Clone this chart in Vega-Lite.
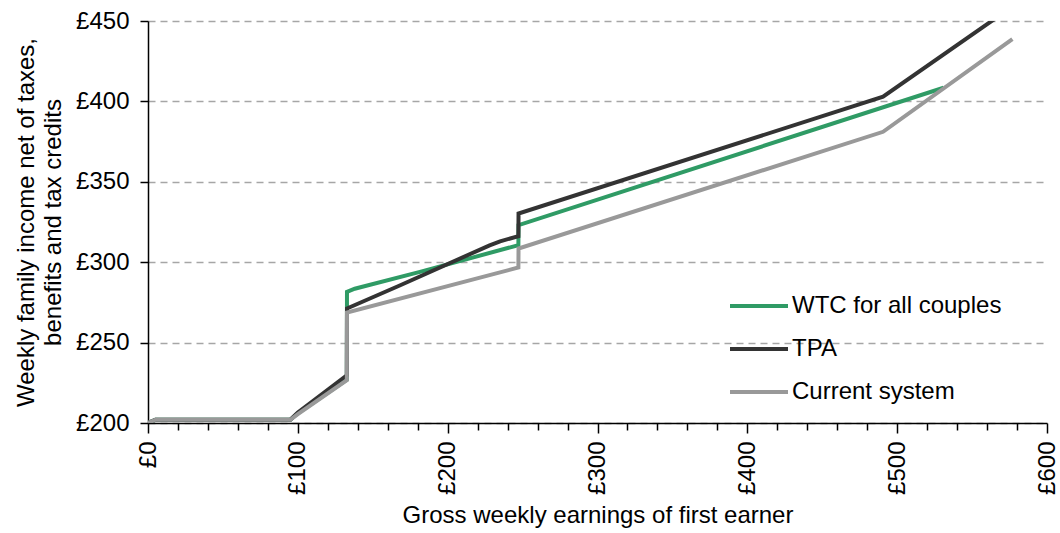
{
  "$schema": "https://vega.github.io/schema/vega-lite/v6.json",
  "width": 899,
  "height": 402,
  "autosize": {"type": "none"},
  "padding": {"left": 148, "top": 21, "right": 13, "bottom": 110},
  "background": "white",
  "config": {
    "view": {"stroke": null},
    "font": "Liberation Sans",
    "axis": {"labelFont": "Liberation Sans", "titleFont": "Liberation Sans", "labelColor": "black", "titleColor": "black", "titleFontWeight": "normal", "domainColor": "black", "tickColor": "black", "domainWidth": 1.5, "tickWidth": 1.5},
    "legend": {"labelFont": "Liberation Sans"}
  },
  "data": {
    "values": [
      {"series": "WTC for all couples", "earn": 0, "income": 200},
      {"series": "WTC for all couples", "earn": 5, "income": 202},
      {"series": "WTC for all couples", "earn": 95, "income": 202},
      {"series": "WTC for all couples", "earn": 100, "income": 206},
      {"series": "WTC for all couples", "earn": 132.7, "income": 227},
      {"series": "WTC for all couples", "earn": 132.8, "income": 281.5},
      {"series": "WTC for all couples", "earn": 138, "income": 283.5},
      {"series": "WTC for all couples", "earn": 181.5, "income": 294},
      {"series": "WTC for all couples", "earn": 247.2, "income": 310.6},
      {"series": "WTC for all couples", "earn": 247.3, "income": 323},
      {"series": "WTC for all couples", "earn": 531, "income": 408.5},
      {"series": "TPA", "earn": 0, "income": 200},
      {"series": "TPA", "earn": 5, "income": 202},
      {"series": "TPA", "earn": 95, "income": 202},
      {"series": "TPA", "earn": 100, "income": 206.5},
      {"series": "TPA", "earn": 132.7, "income": 229.7},
      {"series": "TPA", "earn": 132.8, "income": 271.2},
      {"series": "TPA", "earn": 168, "income": 285.5},
      {"series": "TPA", "earn": 228, "income": 310.5},
      {"series": "TPA", "earn": 235, "income": 313},
      {"series": "TPA", "earn": 247.2, "income": 316.2},
      {"series": "TPA", "earn": 247.3, "income": 330.3},
      {"series": "TPA", "earn": 490.6, "income": 402.9},
      {"series": "TPA", "earn": 576, "income": 458.4},
      {"series": "Current system", "earn": 0, "income": 200},
      {"series": "Current system", "earn": 5, "income": 202},
      {"series": "Current system", "earn": 95, "income": 202},
      {"series": "Current system", "earn": 100, "income": 205.5},
      {"series": "Current system", "earn": 132.7, "income": 226.6},
      {"series": "Current system", "earn": 132.8, "income": 268.7},
      {"series": "Current system", "earn": 247.2, "income": 296.7},
      {"series": "Current system", "earn": 247.3, "income": 308.5},
      {"series": "Current system", "earn": 490.6, "income": 381.1},
      {"series": "Current system", "earn": 576.9, "income": 438.8}
    ]
  },
  "mark": {"type": "line", "strokeWidth": 4, "clip": true, "strokeJoin": "miter"},
  "encoding": {
    "x": {
      "field": "earn", "type": "quantitative",
      "scale": {"domain": [0, 600], "nice": false},
      "axis": {
        "title": "Gross weekly earnings of first earner",
        "titleFontSize": 24, "titlePadding": 9,
        "values": [0,20,40,60,80,100,120,140,160,180,200,220,240,260,280,300,320,340,360,380,400,420,440,460,480,500,520,540,560,580,600],
        "labelExpr": "datum.value % 100 === 0 ? '£' + datum.value : ''",
        "labelAngle": -90, "labelFontSize": 24, "labelPadding": 8,
        "tickSize": {"condition": {"test": "datum.value % 100 === 0", "value": 10}, "value": 7},
        "grid": false, "labelOverlap": false
      }
    },
    "y": {
      "field": "income", "type": "quantitative",
      "scale": {"domain": [200, 450], "nice": false, "zero": false},
      "axis": {
        "title": ["Weekly family income net of taxes,", "benefits and tax credits"],
        "titleFontSize": 24, "titleLineHeight": 27, "titlePadding": 10,
        "values": [200, 250, 300, 350, 400, 450],
        "labelExpr": "'£' + datum.value",
        "labelFontSize": 24, "labelPadding": 11, "tickSize": 8,
        "grid": true, "gridColor": "#a6a6a6", "gridDash": [7, 5], "gridWidth": 1.3
      }
    },
    "color": {
      "field": "series", "type": "nominal",
      "scale": {"domain": ["WTC for all couples", "TPA", "Current system"], "range": ["#2f9b65", "#333333", "#999999"]},
      "legend": {
        "title": null, "orient": "none", "legendX": 580, "legendY": 254,
        "symbolType": "stroke", "symbolSize": 3364, "symbolStrokeWidth": 4,
        "labelFontSize": 24, "labelOffset": 2, "rowPadding": 0, "labelLimit": 0, "labelColor": "black"
      }
    }
  }
}
